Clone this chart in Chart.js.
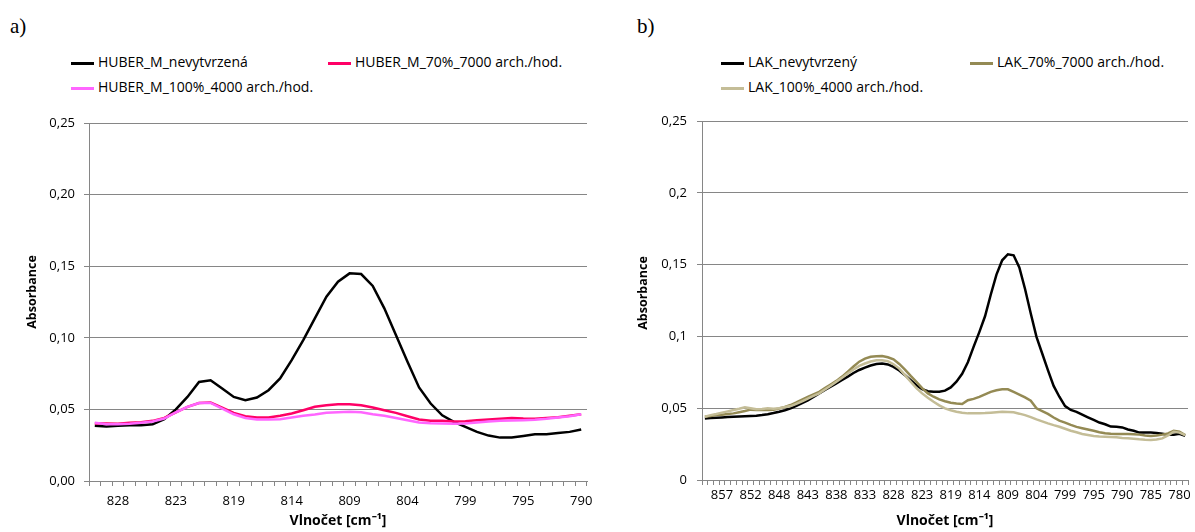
<!DOCTYPE html>
<html>
<head>
<meta charset="utf-8">
<script src="https://cdn.jsdelivr.net/npm/chart.js@4.4.0/dist/chart.umd.min.js"></script>
<style>
  body { margin: 0; background: #fff; width: 1195px; height: 532px; position: relative; overflow: hidden; font-family: 'Open Sans', sans-serif; }
  .panel { position: absolute; font-family: 'Liberation Serif', serif; font-size: 21px; color: #000; }
  .leg { position: absolute; font-size: 14px; white-space: nowrap; line-height: 18px; transform: translateY(-50%); color: #000; }
  .leg i { display: inline-block; width: 23px; height: 3px; vertical-align: middle; margin-right: 4px; }
  canvas { position: absolute; }
</style>
</head>
<body>
<div class="panel" style="left:10px;top:14px">a)</div>
<div class="panel" style="left:637px;top:14px">b)</div>
<canvas id="chartA" width="600" height="432" style="left:0;top:100px"></canvas>
<canvas id="chartB" width="580" height="432" style="left:615px;top:100px"></canvas>
<script>
// Vlnočet (cm-1), popisky kategorií
const wavenumbersA = ['830','829','828','827','826','825','824','823','823','822','821','820','819','818','817','816','815','814','813','812','811','810','809','808','807','806','805','804','803','802','801','800','799','798','797','796','796','795','794','793','792','791','790'];

// a) HUBER_M
const huberNevytvrzena = [0.0385,0.0380,0.0385,0.0390,0.0390,0.0397,0.0431,0.0500,0.0587,0.0692,0.0704,0.0646,0.0587,0.0564,0.0583,0.0634,0.0716,0.0844,0.0984,0.1136,0.1287,0.1392,0.1450,0.1445,0.1362,0.1206,0.1019,0.0832,0.0653,0.0541,0.0459,0.0413,0.0378,0.0343,0.0317,0.0303,0.0303,0.0315,0.0327,0.0327,0.0336,0.0343,0.0360];
const huber70 = [0.0401,0.0401,0.0400,0.0406,0.0410,0.0420,0.0440,0.0480,0.0518,0.0545,0.0548,0.0513,0.0476,0.0452,0.0443,0.0443,0.0455,0.0471,0.0494,0.0518,0.0529,0.0536,0.0536,0.0529,0.0513,0.0494,0.0476,0.0452,0.0429,0.0420,0.0420,0.0415,0.0417,0.0424,0.0429,0.0434,0.0440,0.0436,0.0434,0.0440,0.0445,0.0455,0.0466];
const huber100 = [0.0406,0.0397,0.0397,0.0400,0.0406,0.0415,0.0436,0.0480,0.0518,0.0545,0.0545,0.0506,0.0466,0.0440,0.0429,0.0429,0.0431,0.0443,0.0455,0.0464,0.0476,0.0480,0.0483,0.0480,0.0466,0.0455,0.0440,0.0424,0.0408,0.0403,0.0401,0.0399,0.0401,0.0408,0.0415,0.0420,0.0422,0.0424,0.0427,0.0434,0.0443,0.0452,0.0466];

const wavenumbersB = ['860','859','858','857','856','855','854','853','852','851','850','850','849','848','847','846','845','844','843','842','841','840','839','838','837','836','835','834','833','832','831','830','829','828','827','826','825','824','823','823','822','821','820','819','818','817','816','815','814','813','812','811','810','809','808','807','806','805','804','803','802','801','800','799','798','797','796','796','795','794','793','792','791','790','789','788','787','786','785','784','783','782','781','780','779'];

// b) LAK
const lakNevytvrzeny = [0.0429,0.0432,0.0434,0.0436,0.0438,0.0440,0.0442,0.0444,0.0446,0.0448,0.0452,0.0458,0.0466,0.0475,0.0486,0.0499,0.0516,0.0535,0.0555,0.0578,0.0603,0.0627,0.0650,0.0673,0.0697,0.0720,0.0745,0.0766,0.0783,0.0797,0.0808,0.0811,0.0805,0.0788,0.0762,0.0730,0.0695,0.0660,0.0632,0.0618,0.0614,0.0615,0.0622,0.0645,0.0685,0.0740,0.0820,0.0927,0.1030,0.1140,0.1290,0.1430,0.1530,0.1572,0.1565,0.1480,0.1330,0.1160,0.0997,0.0881,0.0765,0.0655,0.0580,0.0515,0.0488,0.0475,0.0455,0.0436,0.0418,0.0400,0.0388,0.0372,0.0370,0.0366,0.0352,0.0343,0.0330,0.0330,0.0330,0.0328,0.0322,0.0315,0.0315,0.0322,0.0308];
const lak70 = [0.0441,0.0446,0.0452,0.0455,0.0460,0.0464,0.0472,0.0480,0.0490,0.0488,0.0487,0.0487,0.0490,0.0498,0.0508,0.0522,0.0540,0.0560,0.0578,0.0596,0.0614,0.0640,0.0665,0.0690,0.0720,0.0754,0.0790,0.0824,0.0845,0.0858,0.0862,0.0863,0.0855,0.0840,0.0808,0.0769,0.0725,0.0684,0.0640,0.0603,0.0580,0.0561,0.0548,0.0538,0.0532,0.0529,0.0556,0.0565,0.0579,0.0596,0.0614,0.0625,0.0632,0.0632,0.0614,0.0595,0.0575,0.0552,0.0499,0.0480,0.0460,0.0435,0.0413,0.0400,0.0384,0.0370,0.0361,0.0352,0.0343,0.0333,0.0325,0.0322,0.0320,0.0320,0.0320,0.0318,0.0316,0.0310,0.0306,0.0310,0.0316,0.0324,0.0343,0.0336,0.0313];
const lak100 = [0.0441,0.0452,0.0460,0.0469,0.0478,0.0487,0.0496,0.0506,0.0500,0.0492,0.0495,0.0499,0.0497,0.0500,0.0508,0.0515,0.0530,0.0548,0.0566,0.0585,0.0603,0.0630,0.0656,0.0684,0.0712,0.0742,0.0770,0.0795,0.0811,0.0825,0.0834,0.0834,0.0827,0.0806,0.0776,0.0730,0.0684,0.0640,0.0603,0.0572,0.0545,0.0520,0.0499,0.0486,0.0475,0.0468,0.0464,0.0464,0.0464,0.0466,0.0469,0.0472,0.0475,0.0473,0.0471,0.0462,0.0452,0.0438,0.0422,0.0408,0.0394,0.0382,0.0371,0.0357,0.0343,0.0332,0.0320,0.0313,0.0306,0.0303,0.0301,0.0299,0.0297,0.0293,0.0290,0.0287,0.0283,0.0280,0.0278,0.0282,0.0290,0.0310,0.0336,0.0330,0.0313];

const yLabelsA = ['0,00', '0,05', '0,10', '0,15', '0,20', '0,25'];
const yLabelsB = ['0', '0,05', '0,1', '0,15', '0,2', '0,25'];

const AXIS = '#868686';
const FONT = "'Open Sans', sans-serif";

function ds(label, data, color, order) {
    return { label: label, data: data, borderColor: color, backgroundColor: color, borderWidth: 2.5, pointRadius: 0, tension: 0, order: order };
}

// legenda jako HTML (sloupce jako v Excelu)
function addLegend(datasets, spots) {
    datasets.forEach((d, i) => {
        const el = document.createElement('div');
        el.className = 'leg';
        el.style.left = spots[i][0] + 'px';
        el.style.top = spots[i][1] + 'px';
        el.innerHTML = '<i style="background:' + d.borderColor + '"></i>' + d.label;
        document.body.appendChild(el);
    });
}

// popisek osy Y - Excel ho nemá přesně uprostřed plochy grafu
const yTitlePlugin = {
    id: 'yTitle',
    afterDraw(chart, args, opts) {
        const ctx = chart.ctx;
        ctx.save();
        ctx.translate(opts.x, opts.y);
        ctx.rotate(-Math.PI / 2);
        ctx.font = 'bold 12.5px ' + FONT;
        ctx.fillStyle = '#000';
        ctx.textAlign = 'center';
        ctx.textBaseline = 'middle';
        ctx.fillText(opts.text, 0, 0);
        ctx.restore();
    }
};

function makeChart(id, labels, datasets, yLabels, firstLabel, lay) {
    return new Chart(document.getElementById(id), {
        type: 'line',
        data: { labels: labels, datasets: datasets },
        plugins: [yTitlePlugin],
        options: {
            responsive: false,
            animation: false,
            devicePixelRatio: 1,
            layout: { padding: { left: 0, right: lay.right, top: lay.top, bottom: 0 } },
            plugins: {
                legend: { display: false },
                tooltip: { enabled: false },
                yTitle: { text: 'Absorbance', x: lay.titleX, y: lay.titleY }
            },
            scales: {
                x: {
                    type: 'category',
                    offset: true,
                    afterFit: s => { s.height = lay.xHeight; },
                    border: { color: AXIS, width: 1 },
                    grid: { offset: true, drawOnChartArea: false, drawTicks: true, tickLength: 5, color: AXIS },
                    ticks: {
                        autoSkip: false, maxRotation: 0, minRotation: 0, padding: lay.xPad,
                        color: '#000', font: { family: FONT, size: 13 },
                        callback: (v, i) => (i % 5 === firstLabel ? labels[i] : '')
                    },
                    title: { display: true, text: 'Vlnočet [cm⁻¹]', color: '#000', font: { family: FONT, size: 14, weight: 'bold' }, padding: { top: 0, bottom: 3 } }
                },
                y: {
                    min: 0, max: 0.25,
                    afterFit: s => { s.width = lay.yWidth; },
                    border: { color: AXIS, width: 1 },
                    grid: { color: AXIS, lineWidth: 1, drawTicks: true, tickLength: 5 },
                    ticks: {
                        stepSize: 0.05, padding: lay.yPad, color: '#000', font: { family: FONT, size: 13 },
                        callback: (v, i) => yLabels[i]
                    }
                }
            }
        }
    });
}

const setA = [
    ds('HUBER_M_nevytvrzená', huberNevytvrzena, '#000000', 2),
    ds('HUBER_M_70%_7000 arch./hod.', huber70, '#ff0066', 1),
    ds('HUBER_M_100%_4000 arch./hod.', huber100, '#ff66ff', 0)
];
const setB = [
    ds('LAK_nevytvrzený', lakNevytvrzeny, '#000000', 2),
    ds('LAK_70%_7000 arch./hod.', lak70, '#948a54', 1),
    ds('LAK_100%_4000 arch./hod.', lak100, '#c4bd97', 0)
];

makeChart('chartA', wavenumbersA, setA, yLabelsA, 2, { right: 13, top: 23, xHeight: 51, yWidth: 89, xPad: 7, yPad: 9, titleX: 32, titleY: 192 });
makeChart('chartB', wavenumbersB, setB, yLabelsB, 3, { right: 7, top: 21, xHeight: 52, yWidth: 87, xPad: 2, yPad: 10, titleX: 28, titleY: 193 });

addLegend(setA, [[71, 62], [328, 62], [71, 87]]);
addLegend(setB, [[721, 62], [970, 62], [721, 87]]);
</script>
</body>
</html>
